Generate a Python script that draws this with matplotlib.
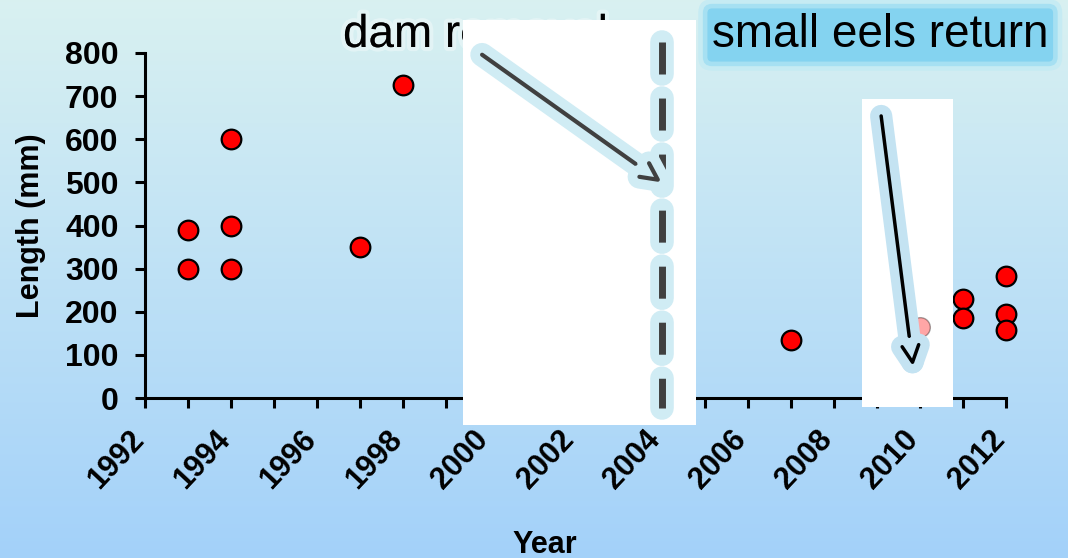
import numpy as np
import matplotlib.pyplot as plt
import matplotlib.patheffects as pe
import matplotlib.transforms as mtransforms
from matplotlib.patches import Rectangle

plt.rcParams['font.family'] = ['Liberation Sans', 'DejaVu Sans']

# Eel lengths by year
years = [1993, 1993, 1994, 1994, 1994, 1997, 1998, 2001, 2002, 2007,
         2011, 2011, 2012, 2012, 2012]
lengths = [390, 300, 600, 400, 300, 350, 725, 657, 675, 135,
           230, 185, 283, 195, 158]
# point partly hidden behind the second white panel
faded_years = [2010]
faded_lengths = [165]

dam_year = 2004
xticks = list(range(1992, 2013, 2))
yticks = list(range(0, 801, 100))

fig = plt.figure(figsize=(10.68, 5.58), dpi=100)

# background gradient
bg = fig.add_axes([0, 0, 1, 1], zorder=-10)
top = np.array([0.85, 0.945, 0.945])
bot = np.array([0.64, 0.82, 0.98])
t = np.linspace(0, 1, 256)[:, None]
grad = top * (1 - t) + bot * t
bg.imshow(grad[:, None, :], aspect='auto', extent=[0, 1, 0, 1])
bg.axis('off')

ax = fig.add_axes([145 / 1068, 1 - 398 / 558, 861 / 1068, 345 / 558])
ax.set_facecolor('none')
ax.scatter(years, lengths, s=200, c='red', edgecolors='black',
           linewidths=1.6, zorder=2.6, clip_on=False)

ax.set_xlim(1992, 2012)
ax.set_ylim(0, 800)
ax.set_xticks(xticks)
ax.set_xticks(range(1992, 2013), minor=True)
ax.set_yticks(yticks)
for s in ['top', 'right']:
    ax.spines[s].set_visible(False)
for s in ['left', 'bottom']:
    ax.spines[s].set_linewidth(2.2)
ax.tick_params(which='both', direction='out', length=7, width=2.2)
ax.tick_params(axis='y', labelsize=23, pad=12)
ax.tick_params(axis='x', labelsize=22, labelrotation=47, pad=12)
shift = mtransforms.ScaledTranslation(5 / 100, 0, fig.dpi_scale_trans)
for lab in ax.get_xticklabels() + ax.get_yticklabels():
    lab.set_fontweight('bold')
for lab in ax.get_xticklabels():
    lab.set_ha('right')
    lab.set_transform(lab.get_transform() + shift)
ax.set_ylabel('Length (mm)', fontsize=22, fontweight='bold', labelpad=14)
ax.set_xlabel('Year', fontsize=22, fontweight='bold')
ax.xaxis.set_label_coords((545 - 145) / 861, (398 - 530) / 345)

# annotation text
ax.text(343 / 1068, 1 - 47 / 558, 'dam removal', transform=fig.transFigure,
        fontsize=33, va='baseline', zorder=2,
        path_effects=[pe.withStroke(linewidth=6, foreground=(1, 1, 1, 0.35))])
for pad, col in [(0.3, '#c6ebf3'), (0.2, '#a6e0f2'), (0.1, '#84d3f0')]:
    ax.text(712 / 1068, 1 - 47 / 558, 'small eels return',
            transform=fig.transFigure, fontsize=33, va='baseline', zorder=1.9,
            color='none',
            bbox=dict(boxstyle=f'round,pad={pad}', facecolor=col,
                      edgecolor='none'))
ax.text(712 / 1068, 1 - 47 / 558, 'small eels return', transform=fig.transFigure,
        fontsize=33, va='baseline', zorder=2)

# white panels
ax.add_artist(Rectangle((463 / 1068, 1 - 425 / 558), 233 / 1068, 405 / 558,
                        transform=fig.transFigure, facecolor='white',
                        edgecolor='none', zorder=3, clip_on=False))
ax.add_artist(Rectangle((862 / 1068, 1 - 407 / 558), 91 / 1068, 308 / 558,
                        transform=fig.transFigure, facecolor='white',
                        edgecolor='none', zorder=3, clip_on=False))

ax.scatter(faded_years, faded_lengths, s=200, c='red', edgecolors='black',
           linewidths=1, alpha=0.35, zorder=3.2, clip_on=False)

# dam removal line
glow = '#d0ecf4'
ax.plot([dam_year, dam_year], [826, -23], color='#404040', lw=5,
        dashes=(4.61, 3.46), dash_capstyle='butt', clip_on=False, zorder=4,
        path_effects=[pe.withStroke(linewidth=17, foreground=glow,
                                    capstyle='round')])

# arrows
ax.annotate('', xy=(dam_year, 500), xytext=(1999.83, 796),
            annotation_clip=False, zorder=5,
            arrowprops=dict(arrowstyle='->', color='#404040', lw=3,
                            mutation_scale=30, shrinkA=0, shrinkB=0,
                            path_effects=[pe.withStroke(linewidth=17,
                                                        foreground=glow,
                                                        capstyle='round',
                                                        joinstyle='round')]))
ax.annotate('', xy=(2009.84, 74), xytext=(2009.1, 654),
            annotation_clip=False, zorder=5,
            arrowprops=dict(arrowstyle='->', color='black', lw=2.5,
                            mutation_scale=30, shrinkA=0, shrinkB=0,
                            path_effects=[pe.withStroke(linewidth=16,
                                                        foreground='#c4e3f2',
                                                        capstyle='round',
                                                        joinstyle='round')]))

fig.savefig('out.png', dpi=100)
